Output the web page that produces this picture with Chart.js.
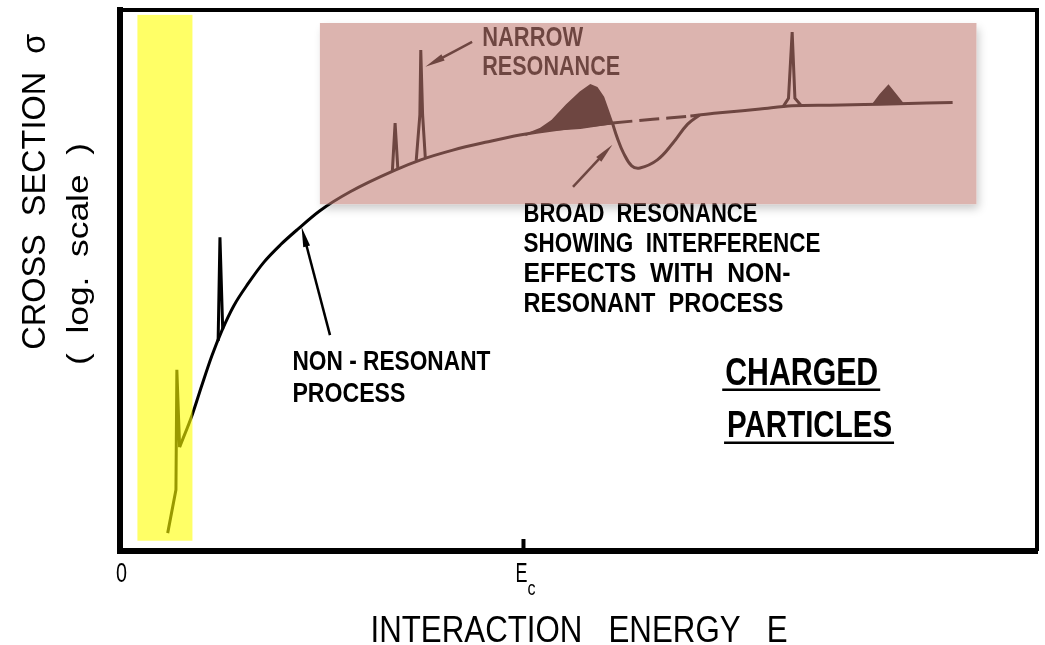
<!DOCTYPE html>
<html>
<head>
<meta charset="utf-8">
<script src="https://cdn.jsdelivr.net/npm/chart.js@4.4.1/dist/chart.umd.min.js"></script>
<style>
  html, body { margin: 0; padding: 0; background: #fff; }
</style>
</head>
<body>
<canvas id="chart" width="1045" height="645"></canvas>
<script>
// energy axis 0..10 (arbitrary units), cross section 0..10 (log units, arbitrary)
const tickValues = [0, 4.4];
const tickLabels = ['0', 'E'];
const tickSub = ['', 'c'];

// non-resonant process
const baseCurve = [
  [0.65, 1.92], [0.79, 2.53], [0.89, 3.05], [1.00, 3.60], [1.11, 4.07],
  [1.24, 4.53], [1.40, 4.95], [1.57, 5.34], [1.75, 5.66], [1.94, 5.95],
  [2.18, 6.29], [2.51, 6.64], [3.00, 7.04], [3.28, 7.23], [3.63, 7.41],
  [4.00, 7.56], [4.36, 7.69], [4.80, 7.80], [5.37, 7.91], [5.81, 7.98],
  [6.22, 8.04], [6.54, 8.10], [6.98, 8.17], [7.33, 8.23], [7.74, 8.24],
  [8.29, 8.26], [9.08, 8.29]
];
const dashRange = [5.37, 6.22];
// threshold part with first narrow resonance
const lowCurve = [[0.52, 0.33], [0.61, 1.13], [0.62, 3.35], [0.65, 1.92]];
// narrow resonances
const spikeB = [[1.07, 3.88], [1.09, 5.80], [1.12, 4.10]];
const spikeC = [[2.97, 7.02], [3.00, 7.91], [3.03, 7.06]];
const spikeD = [[3.23, 7.21], [3.27, 8.06], [3.28, 9.26], [3.30, 8.06], [3.33, 7.25]];
const spikeE = [[7.23, 8.21], [7.29, 8.37], [7.33, 9.59], [7.36, 8.37], [7.43, 8.23]];
const bumpF = [[8.21, 8.25], [8.29, 8.43], [8.38, 8.60], [8.46, 8.43], [8.54, 8.26]];
// broad resonance: constructive hump, then destructive dip
const broadHump = [
  [4.42, 7.69], [4.58, 7.80], [4.71, 7.95], [4.87, 8.24], [5.02, 8.48],
  [5.13, 8.61], [5.20, 8.56], [5.27, 8.39], [5.32, 8.15], [5.37, 7.91],
  [5.02, 7.82], [4.69, 7.78]
];
const dipCurve = [
  [5.37, 7.91], [5.42, 7.65], [5.49, 7.36], [5.58, 7.12], [5.67, 7.08],
  [5.86, 7.23], [6.03, 7.54], [6.19, 7.89], [6.32, 8.06]
];

// highlight boxes [x0, x1, y0, y1]
const yellowBand = [0.19, 0.79, 0.19, 9.91];
const pinkBox = [2.18, 9.34, 6.41, 9.76];

const xTitle = 'INTERACTION   ENERGY   E';
const yTitle = ['CROSS  SECTION  \u03c3', '(  log.  scale  )'];

// labels: text, x, baseline y (data units), font size, width px
const notes = [
  { t: 'NARROW', x: 3.95, y: 9.34, s: 27, w: 101 },
  { t: 'RESONANCE', x: 3.95, y: 8.80, s: 27, w: 138 },
  { t: 'BROAD  RESONANCE', x: 4.40, y: 6.08, s: 27, w: 234 },
  { t: 'SHOWING  INTERFERENCE', x: 4.40, y: 5.53, s: 27, w: 297 },
  { t: 'EFFECTS  WITH  NON-', x: 4.40, y: 4.97, s: 27, w: 267 },
  { t: 'RESONANT  PROCESS', x: 4.40, y: 4.42, s: 27, w: 260 },
  { t: 'NON - RESONANT', x: 1.88, y: 3.35, s: 27, w: 198 },
  { t: 'PROCESS', x: 1.88, y: 2.75, s: 27, w: 113 },
  { t: 'CHARGED', x: 6.60, y: 3.07, s: 39, w: 153, u: 2.98 },
  { t: 'PARTICLES', x: 6.62, y: 2.11, s: 37, w: 165, u: 2.00 }
];
// arrows [tailX, tailY, tipX, tipY]
const arrows = [
  [3.84, 9.41, 3.33, 8.95],
  [4.94, 6.73, 5.37, 7.51],
  [2.29, 3.99, 1.98, 5.99]
];

const FONT = '"Liberation Sans", Arial, sans-serif';
function label(ctx, str, x, y, size, width, rot, weight) {
  ctx.save();
  ctx.font = (weight || 'bold') + ' ' + size + 'px ' + FONT;
  const w = ctx.measureText(str).width;
  ctx.translate(x, y);
  if (rot) ctx.rotate(rot);
  ctx.scale(width / w, 1);
  ctx.textBaseline = 'alphabetic';
  ctx.fillStyle = '#000';
  ctx.fillText(str, 0, 0);
  ctx.restore();
}

function arrow(ctx, x0, y0, x1, y1) {
  const a = Math.atan2(y1 - y0, x1 - x0), c = Math.cos(a), s = Math.sin(a);
  const L = 20, W = 3.5;
  ctx.lineWidth = 2.5;
  ctx.beginPath();
  ctx.moveTo(x0, y0);
  ctx.lineTo(x1 - L * c * 0.6, y1 - L * s * 0.6);
  ctx.stroke();
  ctx.beginPath();
  ctx.moveTo(x1, y1);
  ctx.lineTo(x1 - L * c + W * s, y1 - L * s - W * c);
  ctx.lineTo(x1 - L * c - W * s, y1 - L * s + W * c);
  ctx.closePath();
  ctx.fill();
}

const sketch = {
  id: 'sketch',
  afterDatasetsDraw(chart) {
    const { ctx, chartArea: a, scales: { x, y } } = chart;
    const px = v => x.getPixelForValue(v), py = v => y.getPixelForValue(v);
    ctx.save();
    ctx.strokeStyle = '#000';
    ctx.fillStyle = '#000';

    // top and right frame
    ctx.lineWidth = 4;
    ctx.beginPath();
    ctx.moveTo(a.left, a.top);
    ctx.lineTo(a.right, a.top);
    ctx.lineTo(a.right, a.bottom);
    ctx.stroke();

    // tick marks and labels on the energy axis
    tickValues.forEach((v, i) => {
      const xp = px(v);
      if (v > 0) {
        ctx.lineWidth = 4;
        ctx.beginPath();
        ctx.moveTo(xp, a.bottom);
        ctx.lineTo(xp, a.bottom - 12);
        ctx.stroke();
      }
      if (tickSub[i]) {
        label(ctx, tickLabels[i], xp - 8, a.bottom + 31, 27, 12, 0, 'normal');
        label(ctx, tickSub[i], xp + 4, a.bottom + 44, 20, 8, 0, 'normal');
      } else {
        label(ctx, tickLabels[i], xp - 4, a.bottom + 31, 27, 11, 0, 'normal');
      }
    });

    // axis titles
    label(ctx, xTitle, px(5) - 208, a.bottom + 91, 37, 417, 0, 'normal');
    label(ctx, yTitle[0], a.left - 75, py(6.64) + 158, 34, 316, -Math.PI / 2, 'normal');
    label(ctx, yTitle[1], a.left - 32, py(5.49) + 111, 29, 222, -Math.PI / 2, 'normal');

    // annotations
    notes.forEach(n => {
      label(ctx, n.t, px(n.x), py(n.y), n.s, n.w);
      if (n.u) {
        ctx.lineWidth = 2.5;
        ctx.beginPath();
        ctx.moveTo(px(n.x) - 3, py(n.u));
        ctx.lineTo(px(n.x) + n.w + 2, py(n.u));
        ctx.stroke();
      }
    });
    arrows.forEach(r => arrow(ctx, px(r[0]), py(r[1]), px(r[2]), py(r[3])));

    // highlight overlays
    ctx.fillStyle = 'rgba(255,255,0,0.6)';
    ctx.fillRect(px(yellowBand[0]), py(yellowBand[3]),
      px(yellowBand[1]) - px(yellowBand[0]), py(yellowBand[2]) - py(yellowBand[3]));

    const bx = px(pinkBox[0]), by = py(pinkBox[3]);
    const bw = px(pinkBox[1]) - bx, bh = py(pinkBox[2]) - by;
    // soft drop shadow, only outside the box
    ctx.save();
    ctx.beginPath();
    ctx.rect(0, 0, chart.width, chart.height);
    ctx.rect(bx, by, bw, bh);
    ctx.clip('evenodd');
    ctx.shadowColor = 'rgba(0,0,0,0.22)';
    ctx.shadowBlur = 9;
    ctx.shadowOffsetX = 3;
    ctx.shadowOffsetY = 5;
    ctx.fillStyle = '#fff';
    ctx.fillRect(bx, by, bw, bh);
    ctx.restore();

    ctx.fillStyle = 'rgba(193,123,114,0.57)';
    ctx.fillRect(bx, by, bw, bh);
    ctx.restore();
  }
};

const toXY = arr => arr.map(([x, y]) => ({ x, y }));
const line = (data, extra) => Object.assign({
  data: toXY(data), borderColor: '#000', backgroundColor: '#000',
  borderWidth: 3, pointRadius: 0, fill: false, tension: 0
}, extra);

new Chart(document.getElementById('chart'), {
  type: 'line',
  data: {
    datasets: [
      line(baseCurve, {
        cubicInterpolationMode: 'monotone',
        segment: {
          borderDash: c => (c.p0.parsed.x >= dashRange[0] && c.p1.parsed.x <= dashRange[1]) ? [20, 7] : undefined
        }
      }),
      line(lowCurve),
      line(dipCurve, { tension: 0.4 }),
      line(broadHump, { fill: 'shape', borderWidth: 2 }),
      line(bumpF, { fill: 'shape', borderWidth: 2 }),
      line(spikeB),
      line(spikeC),
      line(spikeD),
      line(spikeE)
    ]
  },
  options: {
    responsive: false,
    animation: false,
    events: [],
    layout: { padding: { left: 120, top: 10, right: 8, bottom: 94 } },
    plugins: { legend: { display: false }, tooltip: { enabled: false } },
    scales: {
      x: {
        type: 'linear', min: 0, max: 10,
        afterBuildTicks: axis => { axis.ticks = tickValues.map(v => ({ value: v })); },
        ticks: { display: false },
        grid: { drawOnChartArea: false, drawTicks: false },
        border: { display: true, width: 6, color: '#000' }
      },
      y: {
        type: 'linear', min: 0, max: 10,
        ticks: { display: false },
        grid: { drawOnChartArea: false, drawTicks: false },
        border: { display: true, width: 6, color: '#000' }
      }
    }
  },
  plugins: [sketch]
});
</script>
</body>
</html>
